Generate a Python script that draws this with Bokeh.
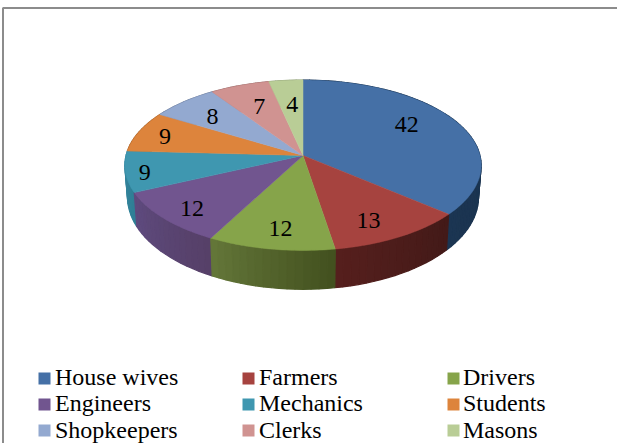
import math
from bokeh.plotting import figure
from bokeh.models import Range1d
from bokeh.core.properties import value
from bokeh.embed import file_html
from bokeh.resources import INLINE

categories = ["House wives", "Farmers", "Drivers", "Engineers", "Mechanics", "Students", "Shopkeepers", "Clerks", "Masons"]
values = [42, 13, 12, 12, 9, 9, 8, 7, 4]
top_colors = ["#4570a6", "#a6433f", "#86a44a", "#71558f", "#3f97b0", "#dd843c", "#93a9d0", "#d09391", "#b9cd96"]
side_left = ["#1b3552", "#561f1d", "#65783a", "#5f4b80", "#3b8aa3", "#a05f2a", "#6b7a96", "#966a68", "#869470"]
side_right = ["#182e47", "#431a18", "#43511f", "#564068", "#2f7f96", "#a05f2a", "#6b7a96", "#966a68", "#869470"]
label_nudge = [(-8, -6), (-2, 8), (0, 8), (-13, 9), (-31, 5), (-19, -2), (-3, 0), (3, 3), (2, 5)]

W, H = 617, 443
CX, CY, RX, RY, K = 302.5, 155.0, 177.0, 84.1, 0.1143
DEPTH, KD, S = 31.2, 0.197, 0.985


def top_pt(a, r=1.0):
    u, v = r * math.sin(a), r * math.cos(a)
    w = 1 + K * v
    return CX + RX * u / w, CY - RY * v / w


def bot_pt(a):
    x, y = top_pt(a)
    v = math.cos(a)
    return CX + S * (x - CX), y + DEPTH / (1 + KD * v)


def hexmix(c1, c2, t):
    a = [int(c1[i:i + 2], 16) for i in (1, 3, 5)]
    b = [int(c2[i:i + 2], 16) for i in (1, 3, 5)]
    return "#%02x%02x%02x" % tuple(round(p + (q - p) * t) for p, q in zip(a, b))


p = figure(width=W, height=H, output_backend="svg", toolbar_location=None,
           x_range=Range1d(0, W), y_range=Range1d(H, 0), min_border=0,
           outline_line_color=None)
p.axis.visible = False
p.grid.visible = False

total = sum(values)
edges = [0.0]
for val in values:
    edges.append(edges[-1] + val / total * 2 * math.pi)

# side wall: thin quads, back to front
quads = []
for i in range(len(values)):
    a0, a1 = edges[i], edges[i + 1]
    n = max(4, int((a1 - a0) / 0.04))
    for j in range(n):
        s0 = a0 + (a1 - a0) * j / n
        s1 = a0 + (a1 - a0) * (j + 1) / n
        x0, y0 = top_pt(s0)
        x1, y1 = top_pt(s1)
        x2, y2 = bot_pt(s1)
        x3, y3 = bot_pt(s0)
        col = hexmix(side_right[i], side_left[i], j / n)
        quads.append((-math.cos((s0 + s1) / 2), [x0, x1, x2, x3], [y0, y1, y2, y3], col))
quads.sort(key=lambda q: q[0])
p.patches([q[1] for q in quads], [q[2] for q in quads], fill_color=[q[3] for q in quads],
          line_color=[q[3] for q in quads], line_width=1.2)

# top surface
for i, col in enumerate(top_colors):
    a0, a1 = edges[i], edges[i + 1]
    n = max(8, int((a1 - a0) / 0.02))
    pts = [top_pt(a0 + (a1 - a0) * j / n) for j in range(n + 1)]
    xs = [CX] + [q[0] for q in pts]
    ys = [CY] + [q[1] for q in pts]
    p.patch(xs, ys, fill_color=col, line_color=col, line_width=0.5)

# value labels
for i, val in enumerate(values):
    mid = (edges[i] + edges[i + 1]) / 2
    x, y = top_pt(mid, 0.72)
    dx, dy = label_nudge[i]
    p.text([x + dx], [y + dy], text=[str(val)], text_font=value("Liberation Serif"), text_font_size="24px",
           text_color="#000000", text_align="center", text_baseline="middle")

# legend
col_swatch = [38, 242, 447]
col_text = [54.5, 258.5, 462.5]
row_y = [378, 404, 430]
for i, name in enumerate(categories):
    c, r = i % 3, i // 3
    p.quad(left=[col_swatch[c]], right=[col_swatch[c] + 12], top=[row_y[r] - 6], bottom=[row_y[r] + 6],
           fill_color=top_colors[i], line_color=None)
    p.text([col_text[c]], [row_y[r] - 2 + (1 if r == 2 else 0)], text=[name], text_font=value("Liberation Serif"), text_font_size="24px",
           text_color="#000000", text_align="left", text_baseline="middle")

# chart border
p.line([2.5, 2.5, W], [H, 7.5, 7.5], line_color="#8c8c8c", line_width=2)

open("out.html", "w").write(file_html(p, INLINE))
